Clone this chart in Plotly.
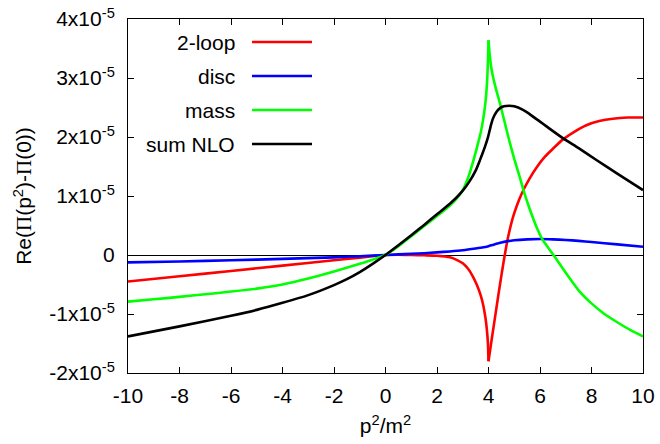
import plotly.graph_objects as go

# values in units of 1e-5
x_red = [-10, -8, -6, -4, -2, -1, -0.5, 0, 0.5, 1, 1.5, 2, 2.5, 2.8, 3.0, 3.2, 3.4, 3.55, 3.7, 3.8, 3.88, 3.94, 3.98, 4.0,
         4.1, 4.2, 4.3, 4.4, 4.5, 4.6, 4.7, 4.8, 4.9, 5.0, 5.2, 5.4, 5.6, 5.86, 6.2, 6.5, 6.89, 7.3, 7.8, 8.3, 8.83, 9.4, 10]
red = [-0.45, -0.36, -0.27, -0.18, -0.09, -0.045, -0.02, 0.0, 0.003, 0.0, -0.005, -0.012, -0.04, -0.09, -0.14, -0.23,
       -0.37, -0.51, -0.69, -0.86, -1.06, -1.28, -1.52, -1.8,
       -1.50, -1.21, -0.92, -0.63, -0.35, -0.08, 0.17, 0.38, 0.56, 0.71, 0.95, 1.14, 1.30, 1.48, 1.67, 1.80, 1.96,
       2.08, 2.20, 2.27, 2.31, 2.33, 2.33]

x_blue = [-10, -8, -6, -4, -2, -1, 0, 0.5, 1, 1.5, 2, 2.5, 3, 3.5, 3.8, 4.0, 4.2, 4.5, 4.75, 5.0, 5.5, 6.0, 6.5, 7.0,
          7.5, 8.0, 9.0, 10]
blue = [-0.125, -0.11, -0.09, -0.065, -0.04, -0.02, 0.0, 0.01, 0.02, 0.03, 0.045, 0.06, 0.08, 0.11, 0.13, 0.15, 0.175,
        0.21, 0.235, 0.25, 0.265, 0.27, 0.265, 0.255, 0.24, 0.22, 0.18, 0.14]

x_green = [-10, -9, -8, -7, -6, -5, -4, -3, -2, -1, -0.5, 0, 0.5, 1, 1.5, 2, 2.5, 2.75, 3.0, 3.2, 3.4, 3.55, 3.7,
           3.8, 3.88, 3.94, 3.98, 4.0,
           4.05, 4.1, 4.2, 4.3, 4.45, 4.6, 4.8, 5.0, 5.2, 5.4, 5.6, 5.86, 6.1, 6.57, 7.0, 7.54, 8.0, 8.5, 9.0, 9.5, 10]
green = [-0.79, -0.75, -0.71, -0.665, -0.62, -0.57, -0.50, -0.40, -0.28, -0.15, -0.08, 0.0, 0.15, 0.32, 0.49, 0.66,
         0.84, 0.95, 1.10, 1.30, 1.58, 1.82, 2.08, 2.32, 2.58, 2.90, 3.30, 3.64,
         3.38, 3.20, 2.97, 2.80, 2.56, 2.30, 1.95, 1.63, 1.34, 1.04, 0.78, 0.48, 0.26, -0.03, -0.30, -0.62, -0.82,
         -1.0, -1.14, -1.27, -1.38]

x_black = [-10, -8, -6, -5, -4, -3, -2, -1.5, -1, -0.5, 0, 0.5, 1, 1.5, 2, 2.5, 2.75, 3, 3.25, 3.5, 3.66, 3.85, 3.95,
           4.0, 4.05, 4.1, 4.17, 4.3, 4.45, 4.6, 4.8, 5.0, 5.34, 5.53, 6.0, 6.25, 6.89, 7.5, 8.19, 9.0, 10]
black = [-1.38, -1.21, -1.03, -0.93, -0.81, -0.68, -0.51, -0.41, -0.29, -0.15, 0.0, 0.165, 0.335, 0.51, 0.69, 0.87,
         0.97, 1.09, 1.24, 1.43, 1.60, 1.82, 1.95, 2.03, 2.12, 2.21, 2.31, 2.42, 2.49, 2.52, 2.53, 2.52, 2.46, 2.41,
         2.26, 2.18, 1.98, 1.81, 1.61, 1.38, 1.10]

series_names = ["2-loop", "disc", "mass", "sum NLO"]
series_colors = ["#ff0000", "#0000ff", "#00ff00", "#000000"]
series_cusp = [4.0, None, 4.0, None]   # threshold cusp at p^2 = 4 m^2

x_ticks = [-10, -8, -6, -4, -2, 0, 2, 4, 6, 8, 10]
x_tick_labels = ["-10", "-8", "-6", "-4", "-2", "0", "2", "4", "6", "8", "10"]
y_ticks = [-2, -1, 0, 1, 2, 3, 4]
y_tick_labels = ["-2x10<sup>-5</sup>", "-1x10<sup>-5</sup>", "0", "1x10<sup>-5</sup>",
                 "2x10<sup>-5</sup>", "3x10<sup>-5</sup>", "4x10<sup>-5</sup>"]

FONT = "Liberation Sans, Arial, sans-serif"
FS = 21
LW = 2.6

fig = go.Figure()
for xs, ys, name, col, cusp in zip([x_red, x_blue, x_green, x_black], [red, blue, green, black],
                                   series_names, series_colors, series_cusp):
    if cusp is None:
        parts = [(xs, ys)]
    else:
        k = xs.index(cusp)
        parts = [(xs[:k + 1], ys[:k + 1]), (xs[k:], ys[k:])]
    for px, py in parts:
        fig.add_trace(go.Scatter(x=px, y=py, mode="lines", name=name,
                                 line=dict(color=col, width=LW, shape="spline", smoothing=0.6),
                                 showlegend=False))

# gnuplot-style legend: right-aligned text, line sample to the right
W, H = 660, 444
ml, mr, mt, mb = 128, 17, 19, 71
pw, ph = W - ml - mr, H - mt - mb
row_y = [42, 76, 110, 144]
for name, col, yy in zip(series_names, series_colors, row_y):
    yp = 1 - (yy - mt) / ph
    fig.add_annotation(x=(237 - ml) / pw, y=yp, xref="paper", yref="paper", text=name,
                       showarrow=False, xanchor="right", yanchor="middle",
                       font=dict(family=FONT, size=FS, color="black"))
    fig.add_shape(type="line", xref="paper", yref="paper",
                  x0=(252 - ml) / pw, x1=(312 - ml) / pw, y0=yp, y1=yp,
                  line=dict(color=col, width=LW))

axis_common = dict(showline=True, linecolor="black", linewidth=1, mirror="allticks",
                   ticks="inside", ticklen=6, tickcolor="black", tickwidth=1,
                   showgrid=False, tickfont=dict(family=FONT, size=FS, color="black"))

fig.update_xaxes(range=[-10, 10], tickvals=x_ticks, ticktext=x_tick_labels, zeroline=False,
                 title=dict(text="p<sup>2</sup>/m<sup>2</sup>", font=dict(family=FONT, size=FS, color="black"),
                            standoff=12),
                 ticklabelstandoff=4, **axis_common)
fig.update_yaxes(range=[-2, 4], tickvals=y_ticks, ticktext=y_tick_labels,
                 zeroline=True, zerolinecolor="black", zerolinewidth=1,
                 title=dict(text="Re(<span style=\"font-family:'Liberation Serif'\">Π</span>(p<sup>2</sup>)-<span style=\"font-family:'Liberation Serif'\">Π</span>(0))",
                            font=dict(family=FONT, size=FS, color="black"), standoff=11),
                 ticklabelstandoff=8, **axis_common)

fig.update_layout(width=W, height=H, margin=dict(l=ml, r=mr, t=mt, b=mb, autoexpand=False),
                  plot_bgcolor="white", paper_bgcolor="white", showlegend=False)

fig.write_html("out.html", config={"displayModeBar": False},
               post_script="document.body.style.margin='0';document.body.style.overflow='hidden';")
